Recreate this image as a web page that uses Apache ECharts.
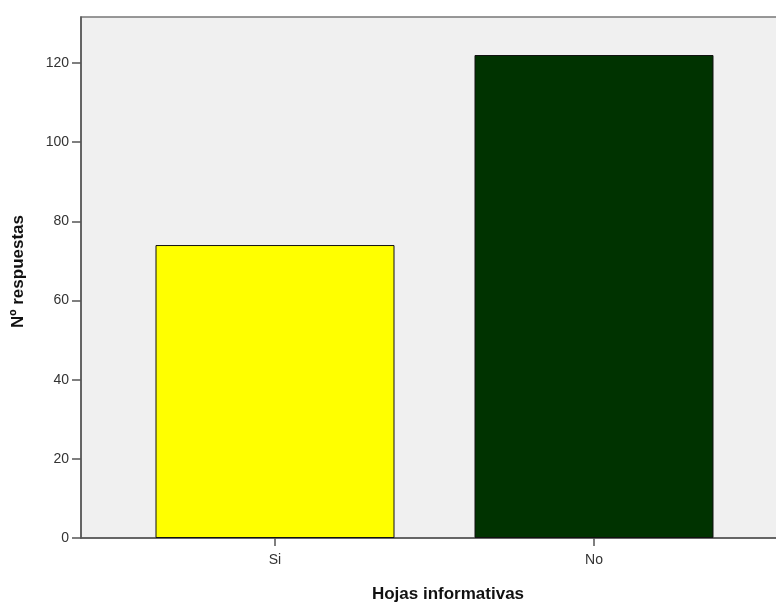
<!DOCTYPE html>
<html><head><meta charset="utf-8">
<script src="https://cdn.jsdelivr.net/npm/echarts@6/dist/echarts.min.js"></script>
<style>html,body{margin:0;padding:0;background:#fff}#c{width:776px;height:602px}</style>
</head><body><div id="c"></div>
<script>
const categories = ['Si', 'No'];
const values = [74, 122];
const yTicks = [0, 20, 40, 60, 80, 100, 120];
const colors = ['#ffff00', '#003300'];

const chart = echarts.init(document.getElementById('c'), null, {renderer: 'canvas'});
const positions = categories.map((c, i) => i);
chart.setOption({
  animation: false,
  backgroundColor: '#ffffff',
  grid: {left: 81, right: -39, top: 17, bottom: 64, outerBoundsMode: 'none', containLabel: false,
    show: true, backgroundColor: '#f0f0f0', borderColor: '#777', borderWidth: 1.5},
  xAxis: {
    type: 'value', min: -0.6082, max: 1.6928,
    name: 'Hojas informativas', nameLocation: 'middle', nameGap: 48,
    nameTextStyle: {fontFamily: 'Liberation Sans', fontWeight: 'bold', fontSize: 17, color: '#111'},
    axisLine: {show: true, onZero: false, lineStyle: {color: '#555', width: 1.5}},
    axisTick: {show: true, length: 8, customValues: positions, lineStyle: {color: '#555', width: 1.5}},
    axisLabel: {customValues: positions, formatter: v => categories[Math.round(v)], margin: 15,
      fontFamily: 'Liberation Sans', fontSize: 14, color: '#333'},
    splitLine: {show: false}
  },
  yAxis: {
    type: 'value', min: 0, max: 131.6, interval: 20,
    name: 'Nº respuestas', nameLocation: 'middle', nameGap: 54, nameRotate: 90,
    nameTextStyle: {fontFamily: 'Liberation Sans', fontWeight: 'bold', fontSize: 17, color: '#111', padding: [0, 0, 0, 12]},
    axisLine: {show: true, onZero: false, lineStyle: {color: '#555', width: 1.5}},
    axisTick: {show: true, length: 9, customValues: yTicks, lineStyle: {color: '#555', width: 1.5}},
    axisLabel: {customValues: yTicks, margin: 12, fontFamily: 'Liberation Sans', fontSize: 14, color: '#333'},
    splitLine: {show: false}
  },
  series: [{
    type: 'bar',
    barWidth: 239,
    data: values.map((v, i) => ({value: [positions[i], v], itemStyle: {color: colors[i]}})),
    itemStyle: {borderColor: '#111', borderWidth: 1}
  }]
});
</script></body></html>
